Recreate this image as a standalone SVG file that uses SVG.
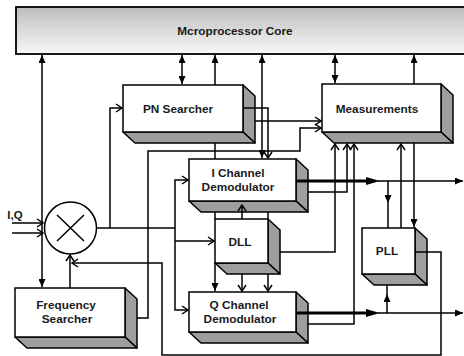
<svg xmlns="http://www.w3.org/2000/svg" width="464" height="356" viewBox="0 0 464 356">
<defs>
<linearGradient id="coreGrad" x1="0" y1="0" x2="0" y2="1">
<stop offset="0" stop-color="#bdbdbd"/>
<stop offset="1" stop-color="#f8f8f8"/>
</linearGradient>
<marker id="fa" viewBox="0 0 8 7" refX="8" refY="3.5" markerWidth="8" markerHeight="7" markerUnits="userSpaceOnUse" orient="auto-start-reverse">
<path d="M0,0 L8,3.5 L0,7 z" fill="#000"/>
</marker>
<marker id="va" viewBox="-1 -1 9 10" refX="6" refY="4" markerWidth="9" markerHeight="10" markerUnits="userSpaceOnUse" orient="auto-start-reverse">
<path d="M0,0 L6,4 L0,8" fill="none" stroke="#000" stroke-width="1.5"/>
</marker>
</defs>
<style>
.face{fill:#fff;stroke:#000;stroke-width:1.5}
.side{fill:#9e9e9e;stroke:#000;stroke-width:1.5;stroke-linejoin:round}
.lbl{font-family:"Liberation Sans",Arial,sans-serif;font-weight:bold;font-size:11.8px;fill:#1a1a1a;text-anchor:middle}
.c{fill:none;stroke:#000;stroke-width:1.5}
.t{fill:none;stroke:#000;stroke-width:3}
.fe{marker-end:url(#fa)}
.fs{marker-start:url(#fa)}
.ve{marker-end:url(#va)}
</style>
<rect width="464" height="356" fill="#fff"/>

<g id="core">
<rect x="16" y="7" width="460" height="47" fill="url(#coreGrad)" stroke="#000" stroke-width="1.8"/>
<text class="lbl" x="235" y="35">Mcroprocessor Core</text>
</g>

<g id="pn-searcher">
<polygon class="side" points="243,85 255,96 255,143 243,132"/>
<polygon class="side" points="123,132 243,132 255,143 135,143"/>
<rect class="face" x="123" y="85" width="120" height="47"/>
<text class="lbl" x="178" y="113">PN Searcher</text>
</g>

<g id="measurements">
<polygon class="side" points="441,84 453,95 453,143 441,132"/>
<polygon class="side" points="322,132 441,132 453,143 334,143"/>
<rect class="face" x="322" y="84" width="119" height="48"/>
<text class="lbl" x="377" y="113">Measurements</text>
</g>

<g id="i-channel-demodulator">
<polygon class="side" points="296,159 308,170 308,212 296,201"/>
<polygon class="side" points="189,201 296,201 308,212 201,212"/>
<rect class="face" x="189" y="159" width="107" height="42"/>
<text class="lbl" x="238" y="177">I Channel</text>
<text class="lbl" x="238" y="191">Demodulator</text>
</g>

<g id="dll">
<polygon class="side" points="268,219 280,230 280,274 268,263"/>
<polygon class="side" points="215,263 268,263 280,274 227,274"/>
<rect class="face" x="215" y="219" width="53" height="44"/>
<text class="lbl" x="240" y="246">DLL</text>
</g>

<g id="pll">
<polygon class="side" points="415,228 427,239 427,285 415,274"/>
<polygon class="side" points="362,274 415,274 427,285 374,285"/>
<rect class="face" x="362" y="228" width="53" height="46"/>
<text class="lbl" x="387" y="255">PLL</text>
</g>

<g id="q-channel-demodulator">
<polygon class="side" points="296,292 308,303 308,343 296,332"/>
<polygon class="side" points="189,332 296,332 308,343 201,343"/>
<rect class="face" x="189" y="292" width="107" height="40"/>
<text class="lbl" x="239" y="309">Q Channel</text>
<text class="lbl" x="240" y="323">Demodulator</text>
</g>

<g id="frequency-searcher">
<polygon class="side" points="125,288 137,299 137,348 125,337"/>
<polygon class="side" points="15,337 125,337 137,348 27,348"/>
<rect class="face" x="15" y="288" width="110" height="49"/>
<text class="lbl" x="66" y="309">Frequency</text>
<text class="lbl" x="67" y="323">Searcher</text>
</g>

<g id="mixer">
<circle cx="70.5" cy="228" r="26" fill="#fff" stroke="#000" stroke-width="1.5"/>
<path d="M57,215 L84,241 M84,215 L57,241" stroke="#000" stroke-width="1.5"/>
</g>

<text class="lbl" x="15" y="219" style="font-size:11.5px">I,Q</text>

<g id="connectors">
<path class="c fs fe" d="M42,55 V287"/>
<path class="c ve" d="M12,223 H43"/>
<path class="c ve" d="M12,233 H43"/>
<path class="c ve" d="M70,288 V255"/>
<path class="c ve" d="M415,252 H441 V355 H162 V263 H72"/>
<path class="c" d="M97,228 H175"/>
<path class="c ve" d="M175,228 V180 H188"/>
<path class="c ve" d="M175,228 V310 H188"/>
<path class="c ve" d="M175,241 H214"/>
<path class="c ve" d="M110,228 V108 H122"/>
<path class="c ve" d="M137,318 H148 V151 H300 V128 H321"/>
<path class="c fs fe" d="M182,55 V84"/>
<path class="c fs" d="M215,55 V85"/>
<path class="c" d="M215,143 V159"/>
<path class="c" d="M215,212 V219"/>
<path class="c fe" d="M215,263 V291"/>
<path class="c fs fe" d="M262,55 V158"/>
<path class="c ve" d="M243,108 H268 V158"/>
<path class="c" d="M268,212 V219"/>
<path class="c ve" d="M268,274 V291"/>
<path class="c ve" d="M242,219 V205"/>
<path class="c ve" d="M242,274 V291"/>
<path class="c ve" d="M255,121 H321"/>
<path class="c fs fe" d="M335,55 V83"/>
<path class="c fs" d="M414,55 V84"/>
<path class="c fe" d="M414,143 V227"/>
<path class="c ve" d="M401,228 V144"/>
<path class="t" d="M296,181 H370"/>
<path d="M366,177 L380,181 L366,185 z" fill="#000"/>
<path class="c fe" d="M378,181 H463"/>
<path class="c fe" d="M388,181 V203"/>
<path class="c" d="M388,203 V228"/>
<path class="c ve" d="M308,192 H347 V144"/>
<path class="c ve" d="M280,252 H335 V144"/>
<path class="t" d="M296,313 H370"/>
<path d="M366,309 L380,313 L366,317 z" fill="#000"/>
<path class="c fe" d="M378,313 H463"/>
<path class="c fe" d="M387,313 V294"/>
<path class="c" d="M387,294 V285"/>
<path class="c ve" d="M308,324 H354 V144"/>
</g>
</svg>
